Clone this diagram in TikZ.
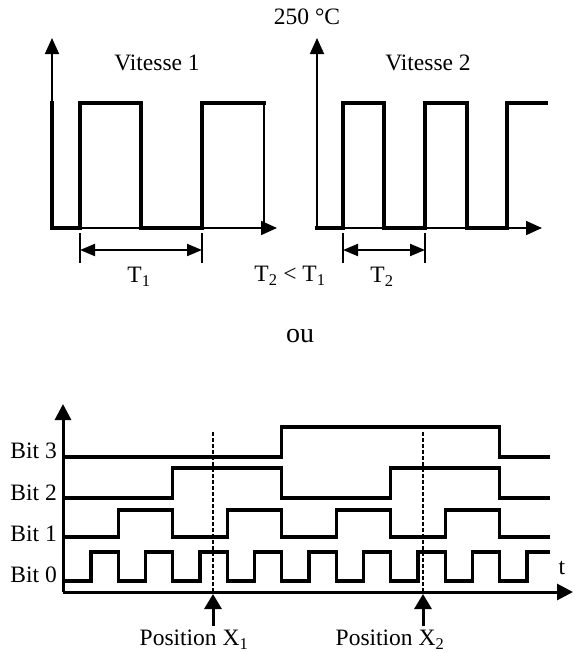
\documentclass[tikz,border=0pt]{standalone}
\usepackage{fontspec}
\setmainfont{Liberation Serif}
\usetikzlibrary{arrows.meta}
\begin{document}
\begin{tikzpicture}[x=1pt,y=-1pt,
  axis/.style={line width=1.8pt,-{Triangle[length=16pt,width=14pt]}},
  baxis/.style={line width=3pt,-{Triangle[length=16pt,width=16pt]}},
  sig/.style={line width=3.6pt,line join=miter,line cap=rect},
  bsig/.style={line width=3.2pt,line join=miter},
  dim/.style={line width=2pt,{Triangle[length=15pt,width=12pt]}-{Triangle[length=15pt,width=12pt]}},
  ticky/.style={line width=1.4pt},
  lbl/.style={font=\fontsize{23.5}{27}\selectfont, inner sep=0pt},
  dsh/.style={line width=2.4pt,dash pattern=on 4pt off 2pt},
  parrow/.style={line width=3pt,-{Triangle[length=15pt,width=17pt]}}
]
\useasboundingbox (0,0) rectangle (573,653);
\def\u{27.25}
% ---------- top left ----------
\coordinate (o1) at (52,228);
\coordinate (y1) at (52,38);
\coordinate (x1) at (277,228);
\draw[axis] (o1) -- (y1);
\draw[axis] (o1) -- (x1);
\draw[sig] (52,103) -- (52,228) -- (80,228) -- (80,103) -- (141,103) -- (141,228) -- (202,228) -- (202,103) -- (264,103);
\draw[line width=2.6pt] (264,103) -- (264,228);
\coordinate (a1t) at (80,233); \coordinate (a1b) at (80,263);
\coordinate (b1t) at (202,233); \coordinate (b1b) at (202,263);
\draw[ticky] (a1t) -- (a1b);
\draw[ticky] (b1t) -- (b1b);
\coordinate (d1a) at (80,250); \coordinate (d1b) at (202,250);
\draw[dim] (d1a) -- (d1b);
\node[lbl] (T1) at (139,277) {T\textsubscript{1}};
\node[lbl] (V1) at (157,63) {Vitesse 1};
\node[lbl] (C) at (307,17) {250 °C};
\node[lbl] (TT) at (290,276) {T\textsubscript{2} < T\textsubscript{1}};
% ---------- top right ----------
\coordinate (o2) at (317,228);
\coordinate (y2) at (317,38);
\coordinate (x2) at (542,228);
\draw[axis] (o2) -- (y2);
\draw[axis] (o2) -- (x2);
\draw[sig] (317,228) -- (343,228) -- (343,103) -- (384,103) -- (384,228) -- (425,228) -- (425,103) -- (467,103) -- (467,228) -- (507,228) -- (507,103) -- (546,103);
\coordinate (a2t) at (343,233); \coordinate (a2b) at (343,263);
\coordinate (b2t) at (425,233); \coordinate (b2b) at (425,263);
\draw[ticky] (a2t) -- (a2b);
\draw[ticky] (b2t) -- (b2b);
\coordinate (d2a) at (343,250); \coordinate (d2b) at (425,250);
\draw[dim] (d2a) -- (d2b);
\node[lbl] (T2) at (382,277) {T\textsubscript{2}};
\node[lbl] (V2) at (428,63) {Vitesse 2};
% ---------- ou ----------
\node[inner sep=0pt,font=\fontsize{28}{30}\selectfont] (ou) at (300,336) {ou};
% ---------- bottom ----------
\coordinate (o3) at (63,592);
\coordinate (y3) at (63,404);
\coordinate (x3) at (573,592);
\draw[baxis] (o3) -- (y3);
\draw[baxis] (o3) -- (x3);
\node[lbl,anchor=base] (t) at (562,574) {t};
% Bit 0
\draw[bsig] (63,581) -- (91,581)
  \foreach \k in {0,2,...,14} { -- ({91+\u*\k},552) -- ({91+\u*(\k+1)},552) -- ({91+\u*(\k+1)},581) -- ({91+\u*(\k+2)},581) }
  -- ({91+\u*16},552) -- (550,552);
% Bit 1
\draw[bsig] (63,537)
  \foreach \k in {1,5,9,13} { -- ({91+\u*\k},537) -- ({91+\u*\k},510) -- ({91+\u*(\k+2)},510) -- ({91+\u*(\k+2)},537) }
  -- (550,537);
% Bit 2
\draw[bsig] (63,498)
  \foreach \k in {3,11} { -- ({91+\u*\k},498) -- ({91+\u*\k},468) -- ({91+\u*(\k+4)},468) -- ({91+\u*(\k+4)},498) }
  -- (550,498);
% Bit 3
\draw[bsig] (63,457) -- ({91+\u*7},457) -- ({91+\u*7},427) -- ({91+\u*15},427) -- ({91+\u*15},457) -- (550,457);
\node[lbl,anchor=base east] (b3) at (57,458) {Bit 3};
\node[lbl,anchor=base east] (b2) at (57,500) {Bit 2};
\node[lbl,anchor=base east] (b1) at (57,541) {Bit 1};
\node[lbl,anchor=base east] (b0) at (57,582) {Bit 0};
% positions
\coordinate (p1t) at (213,432); \coordinate (p1b) at (213,592);
\coordinate (p2t) at (423,432); \coordinate (p2b) at (423,592);
\draw[dsh] (p1t) -- (p1b);
\draw[dsh] (p2t) -- (p2b);
\coordinate (q1) at (213,626); \coordinate (q2) at (423,626);
\draw[parrow] (q1) -- (213,594);
\draw[parrow] (q2) -- (423,594);
\node[lbl] (P1) at (194,640) {Position X\textsubscript{1}};
\node[lbl] (P2) at (390,640) {Position X\textsubscript{2}};
\end{tikzpicture}
\end{document}
